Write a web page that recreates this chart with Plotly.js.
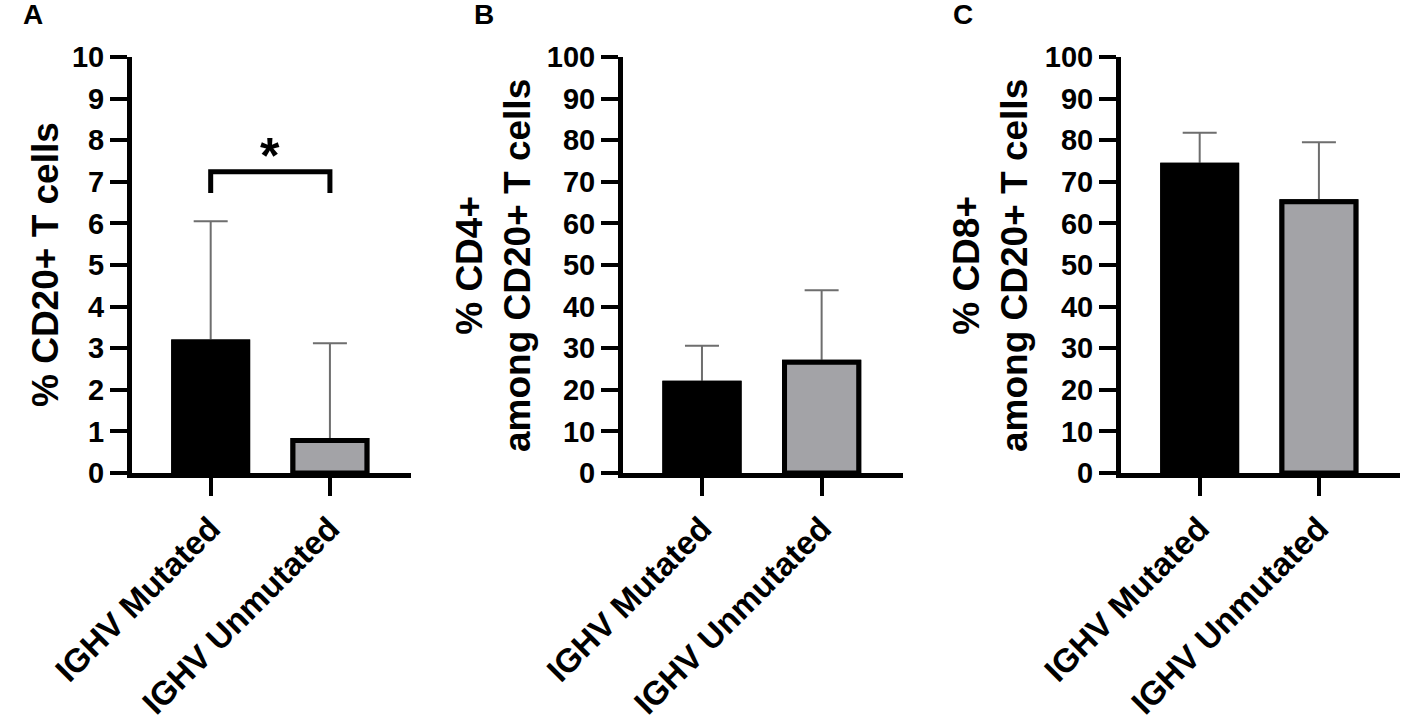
<!DOCTYPE html>
<html>
<head>
<meta charset="utf-8">
<script src="https://cdn.plot.ly/plotly-3.0.1.min.js"></script>
<style>
  html, body { margin: 0; padding: 0; background: #fff; }
  #chart { width: 1417px; height: 724px; }
</style>
</head>
<body>
<div id="chart"></div>
<script>
// groups on the x axis
var groups = ['IGHV Mutated', 'IGHV Unmutated'];

// A: % CD20+ T cells (mean, SD)
var cd20Mean = [3.15, 0.78];
var cd20Sd = [2.9, 2.34];

// B: % CD4+ among CD20+ T cells
var cd4Mean = [21.6, 26.6];
var cd4Sd = [9.0, 17.3];

// C: % CD8+ among CD20+ T cells
var cd8Mean = [74.0, 65.2];
var cd8Sd = [7.8, 14.3];

// significance bracket for panel A
var bracketTop = 7.24;
var bracketFoot = 6.73;
var sigLabel = '*';

var barColors = ['#000000', '#a3a3a7'];
var fontFamily = 'Liberation Sans, Arial, sans-serif';

function barTrace(means, sds, n) {
  var t = {
    type: 'bar',
    x: groups,
    y: means,
    xaxis: 'x' + (n == 1 ? '' : n),
    yaxis: 'y' + (n == 1 ? '' : n),
    width: 0.62,
    marker: {color: barColors, line: {color: '#000', width: 5}},
    hoverinfo: 'none',
    showlegend: false
  };
  if (sds) {
    // symmetric whiskers, the lower half gets hidden by the bar drawn over it
    t.error_y = {
      type: 'data',
      array: sds,
      color: '#6e6e6e',
      thickness: 2,
      width: 17
    };
  }
  return t;
}

function xAxis(domain, anchor) {
  return {
    domain: domain,
    anchor: anchor,
    type: 'category',
    range: [-0.66, 1.68],
    showline: true, linecolor: '#000', linewidth: 5,
    ticks: 'outside', ticklen: 18, tickwidth: 4, tickcolor: '#000',
    tickangle: -45,
    tickfont: {family: fontFamily, size: 33, color: '#000', weight: 'bold'},
    showgrid: false, zeroline: false, fixedrange: true
  };
}

function yAxis(max, step, anchor) {
  return {
    domain: [0.3467, 0.9213],
    anchor: anchor,
    range: [0, max],
    dtick: step,
    tick0: 0,
    showline: true, linecolor: '#000', linewidth: 5,
    ticks: 'outside', ticklen: 17, tickwidth: 4, tickcolor: '#000',
    tickfont: {family: fontFamily, size: 29, color: '#000', weight: 'bold'},
    showgrid: false, zeroline: false, fixedrange: true
  };
}

// each panel: bar with whiskers, then the same bar again on top
var data = [
  barTrace(cd20Mean, cd20Sd, 1), barTrace(cd20Mean, null, 1),
  barTrace(cd4Mean, cd4Sd, 2), barTrace(cd4Mean, null, 2),
  barTrace(cd8Mean, cd8Sd, 3), barTrace(cd8Mean, null, 3)
];

var titleFont = {family: fontFamily, size: 37, color: '#000', weight: 'bold'};
var letterFont = {family: fontFamily, size: 28, color: '#000', weight: 'bold'};

function paperText(text, x, y, font, angle) {
  return {
    xref: 'paper', yref: 'paper',
    x: x / 1417, y: 1 - y / 724,
    xanchor: 'center', yanchor: 'middle',
    text: text, showarrow: false,
    textangle: angle || 0,
    font: font
  };
}

var layout = {
  width: 1417,
  height: 724,
  margin: {l: 0, r: 0, t: 0, b: 0},
  paper_bgcolor: '#fff',
  plot_bgcolor: '#fff',
  barmode: 'overlay',
  xaxis: xAxis([132 / 1417, 411 / 1417], 'y'),
  yaxis: yAxis(10, 1, 'x'),
  xaxis2: xAxis([623 / 1417, 903 / 1417], 'y2'),
  yaxis2: yAxis(100, 10, 'x2'),
  xaxis3: xAxis([1121 / 1417, 1400 / 1417], 'y3'),
  yaxis3: yAxis(100, 10, 'x3'),
  shapes: [{
    type: 'path',
    xref: 'x', yref: 'y',
    path: 'M 0 ' + bracketFoot + ' L 0 ' + bracketTop + ' L 1 ' + bracketTop + ' L 1 ' + bracketFoot,
    line: {color: '#000', width: 5}
  }],
  annotations: [
    paperText('A', 33, 15, letterFont),
    paperText('B', 484, 15, letterFont),
    paperText('C', 963, 15, letterFont),
    paperText('% CD20+ T cells', 45, 265, titleFont, -90),
    paperText('% CD4+<br>among CD20+ T cells', 493, 266, titleFont, -90),
    paperText('% CD8+<br>among CD20+ T cells', 990, 266, titleFont, -90),
    {
      xref: 'x', yref: 'y',
      x: 0.5, y: 6.9,
      xanchor: 'center', yanchor: 'bottom',
      text: sigLabel, showarrow: false,
      font: {family: fontFamily, size: 50, color: '#000', weight: 'bold'}
    }
  ]
};

Plotly.newPlot('chart', data, layout, {staticPlot: true, displayModeBar: false});
</script>
</body>
</html>
